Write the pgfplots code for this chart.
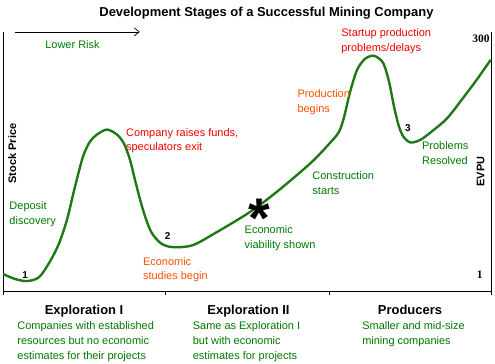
\documentclass[border=0pt]{standalone}
\usepackage{pgfplots}
\pgfplotsset{compat=1.18}
\usepackage{fontspec}
\setmainfont{Liberation Sans}
\newfontfamily\serifb{Liberation Serif}
\usetikzlibrary{arrows.meta}
\definecolor{curvegreen}{RGB}{30,120,20}
\definecolor{tgreen}{RGB}{0,120,0}
\definecolor{tred}{RGB}{240,0,0}
\definecolor{torange}{RGB}{255,80,0}
\begin{document}
\begin{tikzpicture}[x=1bp,y=1bp,
  lab/.style={anchor=base west, inner sep=0pt, font=\fontsize{11bp}{13bp}\selectfont},
  num/.style={anchor=base, inner sep=0pt, font=\fontsize{10bp}{12bp}\selectfont\bfseries},
  head/.style={anchor=base, inner sep=0pt, font=\fontsize{13bp}{15bp}\selectfont\bfseries}]
\begin{axis}[
  scale only axis, width=490bp, height=260bp,
  anchor=origin, at={(0,0)},
  xmin=0, xmax=490, ymin=0, ymax=260,
  axis x line=bottom, axis y line=box,
  axis line style={black, line width=0.9pt, -},
  xtick={0,163,327,490}, xticklabels={},
  ytick=\empty,
  tick align=outside, major tick length=4bp,
  tick style={black, line width=0.8pt},
  clip=false,
]
\addplot[curvegreen, line width=2.4pt, smooth, tension=0.5] coordinates {
(0,17) (12,12) (24,10) (36,14) (47,30) (56,48) (64,72) (72,105) (80,135) (87,150) (94,157) (104,162) (114,157) (121,148) (127,132) (133,108) (140,82) (148,60) (158,48) (170,44) (190,46) (214,59) (247,79) (275,100) (309,129) (329,150) (337,160) (342,175) (348,200) (355,222) (363,233) (372,236) (381,229) (387,210) (392,185) (397,165) (402,154) (409,149) (419,152) (431,161) (445,173) (460,192) (475,212) (489,232)
};
\addplot[only marks, mark=text, text mark={\fontsize{56bp}{56bp}\selectfont\bfseries *}, text mark as node=true] coordinates {(257,73)};
\end{axis}
\useasboundingbox (-3,-73) rectangle (492,292);
% title
\node[head] at (264,275) {Development Stages of a Successful Mining Company};
% arrow
\draw[line width=0.7pt, -{Straight Barb[length=5bp,width=8bp]}] (12,260) -- (137,260);
\node[lab, text=tgreen] at (42,243) {Lower Risk};
% axis labels
\node[rotate=90, inner sep=0pt, font=\fontsize{11bp}{12bp}\selectfont\bfseries] at (9,138) {Stock Price};
\node[rotate=90, inner sep=0pt, font=\fontsize{11bp}{12bp}\selectfont\bfseries] at (479,120) {EVPU};
\node[anchor=base east, inner sep=0pt, font=\fontsize{11.5bp}{12bp}\selectfont\serifb\bfseries] at (488,249) {300};
\node[anchor=base east, inner sep=0pt, font=\fontsize{11.5bp}{12bp}\selectfont\serifb\bfseries] at (481,13) {1};
% numbers on curve
\node[num] at (22,13) {1};
\node[num] at (165,52) {2};
\node[num] at (406,160) {3};
% annotations
\node[lab, text=tred] at (123,155) {Company raises funds,};
\node[lab, text=tred] at (123,141) {speculators exit};
\node[lab, text=tgreen] at (6,82) {Deposit};
\node[lab, text=tgreen] at (6,67) {discovery};
\node[lab, text=torange] at (140,26) {Economic};
\node[lab, text=torange] at (140,12) {studies begin};
\node[lab, text=tgreen] at (242,58) {Economic};
\node[lab, text=tgreen] at (242,43) {viability shown};
\node[lab, text=tgreen] at (310,112) {Construction};
\node[lab, text=tgreen] at (310,97) {starts};
\node[lab, text=tgreen] at (420,142) {Problems};
\node[lab, text=tgreen] at (420,127) {Resolved};
\node[lab, text=torange] at (295,194) {Production};
\node[lab, text=torange] at (295,179) {begins};
\node[lab, text=tred] at (339,255) {Startup production};
\node[lab, text=tred] at (339,240) {problems/delays};
% bottom
\node[head] at (81,-24) {Exploration I};
\node[head] at (246,-24) {Exploration II};
\node[head] at (408,-24) {Producers};
\node[lab, text=tgreen] at (14,-39) {Companies with established};
\node[lab, text=tgreen] at (14,-54) {resources but no economic};
\node[lab, text=tgreen] at (14,-69) {estimates for their projects};
\node[lab, text=tgreen] at (190,-39) {Same as Exploration I};
\node[lab, text=tgreen] at (190,-54) {but with economic};
\node[lab, text=tgreen] at (190,-69) {estimates for projects};
\node[lab, text=tgreen] at (360,-39) {Smaller and mid-size};
\node[lab, text=tgreen] at (360,-54) {mining companies};
\end{tikzpicture}
\end{document}
